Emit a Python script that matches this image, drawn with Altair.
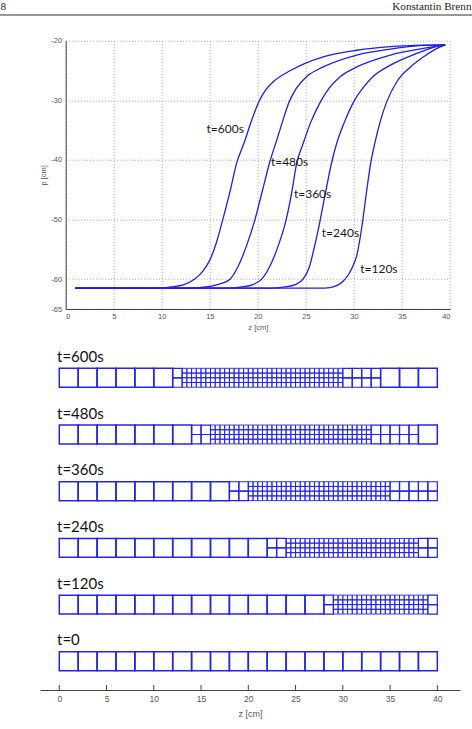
import altair as alt
import pandas as pd

# ---------------- pressure head profiles p(z) ----------------
curve_times = ["t=600s", "t=480s", "t=360s", "t=240s", "t=120s"]

z_600 = [1.0, 9.5, 11.0, 12.3, 13.4, 14.3, 15.0, 15.7, 16.35, 17.1, 17.8, 18.6, 19.3, 20.06, 20.8, 21.6, 23.4, 26.8, 30.3, 33.8, 37.3, 39.5]
p_600 = [-61.5, -61.5, -61.3, -60.9, -60.0, -58.6, -56.8, -53.8, -50.0, -45.3, -40.5, -37.0, -33.6, -30.4, -28.3, -26.9, -25.0, -22.7, -21.6, -21.0, -20.75, -20.7]

z_480 = [1.0, 13.0, 14.5, 15.8, 17.1, 17.9, 18.8, 19.7, 20.5, 21.25, 22.0, 22.6, 23.2, 24.0, 25.1, 26.8, 30.3, 33.8, 37.25, 39.5]
p_480 = [-61.5, -61.5, -61.3, -60.9, -60.0, -58.0, -54.5, -50.0, -45.0, -40.3, -36.5, -33.4, -30.5, -28.0, -26.0, -24.4, -22.4, -21.4, -20.8, -20.7]

z_360 = [1.0, 16.8, 18.3, 19.5, 20.4, 21.2, 22.1, 22.95, 23.5, 24.05, 24.7, 25.5, 26.5, 27.4, 28.6, 30.3, 33.8, 37.25, 39.5]
p_360 = [-61.5, -61.5, -61.3, -60.9, -60.0, -58.0, -54.5, -50.0, -45.7, -40.5, -37.3, -33.7, -30.3, -28.0, -26.0, -24.4, -22.4, -21.3, -20.7]

z_240 = [1.0, 21.3, 22.8, 23.9, 24.7, 25.35, 25.9, 26.5, 27.1, 27.7, 28.25, 29.0, 29.96, 31.0, 32.0, 33.8, 36.6, 38.3, 39.5]
p_240 = [-61.5, -61.5, -61.3, -60.9, -60.0, -58.0, -54.5, -50.0, -45.0, -40.3, -37.0, -33.7, -30.3, -27.8, -26.0, -24.1, -22.1, -21.1, -20.7]

z_120 = [1.0, 26.5, 27.5, 28.3, 28.9, 29.4, 29.9, 30.3, 30.8, 31.3, 31.75, 32.2, 32.8, 33.4, 34.5, 35.9, 37.25, 38.65, 39.5]
p_120 = [-61.5, -61.5, -61.4, -61.0, -60.3, -59.3, -57.8, -56.0, -51.5, -45.5, -40.5, -37.0, -33.2, -30.3, -26.8, -24.4, -22.7, -21.3, -20.7]

# where each profile's time tag sits (z, p)
label_z = [16.6, 23.3, 25.7, 28.6, 32.6]
label_p = [-34.8, -40.4, -45.75, -52.2, -58.3]

z_ticks = [0, 5, 10, 15, 20, 25, 30, 35, 40]
p_ticks = [-65, -60, -50, -40, -30, -20]

# ---------------- adaptive meshes: (from z, to z, cell size) ----------------
mesh_rows = ["t=600s", "t=480s", "t=360s", "t=240s", "t=120s", "t=0"]
mesh_600 = [(0, 12, 2), (12, 13, 1), (13, 30, 0.5), (30, 34, 1), (34, 40, 2)]
mesh_480 = [(0, 14, 2), (14, 16, 1), (16, 33, 0.5), (33, 38, 1), (38, 40, 2)]
mesh_360 = [(0, 18, 2), (18, 20, 1), (20, 35, 0.5), (35, 40, 1)]
mesh_240 = [(0, 22, 2), (22, 24, 1), (24, 38, 0.5), (38, 40, 1)]
mesh_120 = [(0, 28, 2), (28, 29, 1), (29, 39, 0.5), (39, 40, 1)]
mesh_0 = [(0, 40, 2)]

page_number = "8"
running_head = "Konstantin Brenn"

# ---------------- styling / page geometry ----------------
PAGE_W, PAGE_H = 472, 729
ORIGIN_X, ORIGIN_Y = 65.7, 40.7      # top-left corner of the profile plot
BLUE = "#1f1fe0"
AXIS_GREY = "#555555"
TOP_W, TOP_H = 384.3, 268.3
BOT_W = 394.3
BOT_XDOM = [-2.04, 42.4]
BOT_YDOM = [-2.04, 34.5]
BOT_H = (BOT_YDOM[1] - BOT_YDOM[0]) * 9.45
ROW_PITCH = 6      # vertical distance between mesh strips (in cm of the strip scale)
COARSE = 2         # coarse cell size / strip height

# ---------------- tables ----------------
profile_z = [z_600, z_480, z_360, z_240, z_120]
profile_p = [p_600, p_480, p_360, p_240, p_120]
rows = []
for name, zs, ps in zip(curve_times, profile_z, profile_p):
    for i, (z, p) in enumerate(zip(zs, ps)):
        rows.append({"series": name, "z": z, "p": p, "idx": i})
curves = pd.DataFrame(rows)
tags = pd.DataFrame({"text": curve_times, "z": label_z, "p": label_p})

mesh_segments = [mesh_600, mesh_480, mesh_360, mesh_240, mesh_120, mesh_0]
line_w = {2: 1.5, 1: 1.2, 0.5: 0.9}
cells = []
strip_tags = []
n_rows = len(mesh_rows)
for k, (name, segs) in enumerate(zip(mesh_rows, mesh_segments)):
    base = ROW_PITCH * (n_rows - 1 - k)
    strip_tags.append({"text": name, "x": -0.24, "y": base + COARSE + 0.69})
    for a, b, h in segs:
        nx = int(round((b - a) / h))
        ny = int(round(COARSE / h))
        for i in range(nx):
            for j in range(ny):
                cells.append({
                    "x0": a + i * h, "x1": a + (i + 1) * h,
                    "y0": base + j * h, "y1": base + (j + 1) * h,
                    "w": line_w[h],
                })
cells = pd.DataFrame(cells)
strip_tags = pd.DataFrame(strip_tags)
ticks_df = pd.DataFrame({"z": z_ticks})

# ---------------- top panel: pressure profiles ----------------
axis_common = dict(
    grid=True, gridDash=[1, 2], gridColor="#8c8c8c", gridWidth=0.8,
    ticks=False, tickSize=0, domainColor="#444444", domainWidth=1,
    labelFont="Liberation Sans", labelFontSize=7.5, labelColor=AXIS_GREY,
    titleFont="Liberation Sans", titleFontSize=7.5, titleFontWeight="normal",
    titleColor=AXIS_GREY,
)

lines = alt.Chart(curves).mark_line(
    interpolate="monotone", strokeWidth=1.3, color=BLUE
).encode(
    x=alt.X("z:Q", scale=alt.Scale(domain=[0, 40], nice=False, zero=False),
            axis=alt.Axis(values=z_ticks, title="z [cm]", labelPadding=3.5,
                          titlePadding=3, **axis_common)),
    y=alt.Y("p:Q", scale=alt.Scale(domain=[-65, -20], nice=False, zero=False),
            axis=alt.Axis(values=p_ticks, title="p [cm]", labelPadding=4,
                          titlePadding=3, labelExpr="'' + datum.value",
                          **axis_common)),
    detail="series:N",
    order="idx:Q",
)

tag_text = alt.Chart(tags).mark_text(
    font="Lato", fontSize=12, color="#1a1a1a", align="center", baseline="middle"
).encode(x="z:Q", y="p:Q", text="text:N")

# running page header above the figure
header_rule = alt.Chart(pd.DataFrame({"a": [0]})).mark_rule(
    color="#333333", strokeWidth=1
).encode(x=alt.value(-ORIGIN_X), x2=alt.value(PAGE_W - ORIGIN_X), y=alt.value(15 - ORIGIN_Y))
header_left = alt.Chart(pd.DataFrame({"text": [page_number]})).mark_text(
    font="Liberation Serif", fontSize=11.2, color="#222222",
    align="left", baseline="alphabetic"
).encode(x=alt.value(0.5 - ORIGIN_X), y=alt.value(10 - ORIGIN_Y), text="text:N")
header_right = alt.Chart(pd.DataFrame({"text": [running_head]})).mark_text(
    font="Liberation Serif", fontSize=11.2, color="#222222",
    align="right", baseline="alphabetic"
).encode(x=alt.value(PAGE_W - 0.5 - ORIGIN_X), y=alt.value(10 - ORIGIN_Y), text="text:N")

top = alt.layer(header_rule, header_left, header_right, lines, tag_text).properties(
    width=TOP_W, height=TOP_H
)

# ---------------- bottom panel: refined meshes ----------------
xs = alt.Scale(domain=BOT_XDOM, range=[-25.7, BOT_W], nice=False, zero=False)
ys = alt.Scale(domain=BOT_YDOM, nice=False, zero=False)

mesh = alt.Chart(cells).mark_rect(fillOpacity=0, stroke="#2424ea").encode(
    x=alt.X("x0:Q", scale=xs,
            axis=alt.Axis(values=z_ticks, title="z [cm]", grid=False, ticks=False,
                          tickSize=0, labelPadding=4, titlePadding=7,
                          domainColor="#444444", domainWidth=1,
                          labelFont="Liberation Sans", labelFontSize=8.5,
                          labelColor=AXIS_GREY, titleFont="Liberation Sans",
                          titleFontSize=9, titleFontWeight="normal",
                          titleColor=AXIS_GREY)),
    x2="x1:Q",
    y=alt.Y("y0:Q", scale=ys, axis=None),
    y2="y1:Q",
    strokeWidth=alt.StrokeWidth("w:Q", scale=None),
)

strip_text = alt.Chart(strip_tags).mark_text(
    font="Lato", fontSize=15, color="#111111", align="left", baseline="alphabetic"
).encode(x=alt.X("x:Q", scale=xs), y=alt.Y("y:Q", scale=ys), text="text:N")

tick_marks = alt.Chart(ticks_df).mark_rule(color="#444444", strokeWidth=1).encode(
    x=alt.X("z:Q", scale=xs), y=alt.value(BOT_H - 5), y2=alt.value(BOT_H)
)

bottom = alt.layer(mesh, strip_text, tick_marks).properties(width=BOT_W, height=BOT_H)

# fixed page: origin placed by padding, nothing auto-resized
chart = alt.vconcat(top, bottom, spacing=35, bounds="flush").properties(
    autosize=alt.AutoSizeParams(type="none"),
    padding={"left": ORIGIN_X, "top": ORIGIN_Y,
             "right": PAGE_W - ORIGIN_X, "bottom": PAGE_H - ORIGIN_Y},
    background="white",
).configure_view(stroke=None)

chart.save("out.html", embed_options={"renderer": "svg", "actions": False})
